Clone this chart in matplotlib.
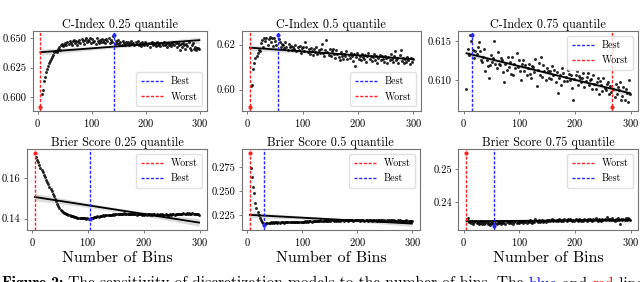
import numpy as np
import matplotlib
matplotlib.use('Agg')
import matplotlib.pyplot as plt

plt.rcParams['font.family'] = 'cmr10'
plt.rcParams['axes.formatter.use_mathtext'] = True
plt.rcParams['mathtext.fontset'] = 'cm'

bins = list(range(5, 301, 2))

cindex_025 = [
    0.5910, 0.6025, 0.6060, 0.6135, 0.6170, 0.6215, 0.6240, 0.6268, 0.6290, 0.6310,
    0.6322, 0.6345, 0.6355, 0.6380, 0.6392, 0.6388, 0.6410, 0.6425, 0.6402, 0.6440,
    0.6455, 0.6432, 0.6448, 0.6462, 0.6440, 0.6470, 0.6455, 0.6480, 0.6462, 0.6445,
    0.6475, 0.6490, 0.6458, 0.6480, 0.6445, 0.6470, 0.6488, 0.6460, 0.6492, 0.6475,
    0.6450, 0.6485, 0.6500, 0.6468, 0.6490, 0.6478, 0.6505, 0.6462, 0.6495, 0.6470,
    0.6482, 0.6455, 0.6500, 0.6478, 0.6462, 0.6490, 0.6472, 0.6495, 0.6468, 0.6485,
    0.6458, 0.6492, 0.6475, 0.6500, 0.6465, 0.6488, 0.6472, 0.6520, 0.6533, 0.6450,
    0.6478, 0.6462, 0.6485, 0.6455, 0.6470, 0.6448, 0.6475, 0.6460, 0.6440, 0.6468,
    0.6455, 0.6472, 0.6445, 0.6462, 0.6480, 0.6450, 0.6465, 0.6440, 0.6470, 0.6455,
    0.6475, 0.6448, 0.6462, 0.6435, 0.6468, 0.6452, 0.6440, 0.6470, 0.6458, 0.6445,
    0.6465, 0.6430, 0.6458, 0.6472, 0.6440, 0.6462, 0.6450, 0.6438, 0.6468, 0.6445,
    0.6455, 0.6432, 0.6462, 0.6448, 0.6470, 0.6440, 0.6455, 0.6428, 0.6460, 0.6445,
    0.6465, 0.6438, 0.6455, 0.6470, 0.6442, 0.6458, 0.6430, 0.6465, 0.6448, 0.6400,
    0.6452, 0.6425, 0.6462, 0.6440, 0.6408, 0.6455, 0.6435, 0.6468, 0.6420, 0.6398,
    0.6445, 0.6462, 0.6412, 0.6430, 0.6405, 0.6420, 0.6415, 0.6410]

cindex_050 = [
    0.5921, 0.6018, 0.6020, 0.6092, 0.6120, 0.6142, 0.6150, 0.6163, 0.6177, 0.6170,
    0.6206, 0.6222, 0.6190, 0.6230, 0.6215, 0.6232, 0.6200, 0.6225, 0.6235, 0.6210,
    0.6228, 0.6195, 0.6232, 0.6218, 0.6200, 0.6245, 0.6226, 0.6212, 0.6190, 0.6205,
    0.6198, 0.6185, 0.6210, 0.6192, 0.6178, 0.6202, 0.6188, 0.6195, 0.6175, 0.6190,
    0.6182, 0.6198, 0.6170, 0.6188, 0.6178, 0.6195, 0.6165, 0.6185, 0.6192, 0.6172,
    0.6212, 0.6190, 0.6168, 0.6180, 0.6160, 0.6185, 0.6172, 0.6155, 0.6180, 0.6168,
    0.6190, 0.6158, 0.6175, 0.6162, 0.6182, 0.6205, 0.6165, 0.6150, 0.6178, 0.6222,
    0.6168, 0.6155, 0.6180, 0.6148, 0.6172, 0.6183, 0.6160, 0.6140, 0.6175, 0.6158,
    0.6145, 0.6133, 0.6168, 0.6152, 0.6138, 0.6160, 0.6148, 0.6170, 0.6135, 0.6155,
    0.6142, 0.6162, 0.6150, 0.6128, 0.6158, 0.6105, 0.6145, 0.6165, 0.6138, 0.6152,
    0.6130, 0.6160, 0.6145, 0.6135, 0.6155, 0.6125, 0.6148, 0.6162, 0.6138, 0.6150,
    0.6128, 0.6145, 0.6158, 0.6132, 0.6150, 0.6120, 0.6142, 0.6155, 0.6130, 0.6148,
    0.6135, 0.6125, 0.6152, 0.6140, 0.6118, 0.6145, 0.6130, 0.6160, 0.6138, 0.6122,
    0.6148, 0.6172, 0.6132, 0.6140, 0.6120, 0.6155, 0.6176, 0.6128, 0.6142, 0.6118,
    0.6138, 0.6125, 0.6145, 0.6130, 0.6115, 0.6140, 0.6122, 0.6135]

cindex_075 = [
    0.6088, 0.6139, 0.6132, 0.6157, 0.6150, 0.6158, 0.6138, 0.6128, 0.6137, 0.6133,
    0.6142, 0.6148, 0.6137, 0.6125, 0.6123, 0.6130, 0.6140, 0.6111, 0.6125, 0.6118,
    0.6102, 0.6119, 0.6132, 0.6123, 0.6128, 0.6150, 0.6121, 0.6115, 0.6136, 0.6121,
    0.6119, 0.6128, 0.6125, 0.6110, 0.6098, 0.6121, 0.6113, 0.6130, 0.6117, 0.6123,
    0.6108, 0.6129, 0.6107, 0.6121, 0.6115, 0.6134, 0.6117, 0.6126, 0.6111, 0.6100,
    0.6120, 0.6125, 0.6112, 0.6119, 0.6107, 0.6115, 0.6121, 0.6108, 0.6102, 0.6118,
    0.6117, 0.6110, 0.6127, 0.6092, 0.6113, 0.6122, 0.6107, 0.6129, 0.6104, 0.6119,
    0.6112, 0.6100, 0.6115, 0.6111, 0.6102, 0.6111, 0.6101, 0.6118, 0.6107, 0.6113,
    0.6098, 0.6110, 0.6084, 0.6102, 0.6106, 0.6094, 0.6115, 0.6109, 0.6099, 0.6104,
    0.6099, 0.6113, 0.6108, 0.6100, 0.6107, 0.6090, 0.6075, 0.6101, 0.6106, 0.6111,
    0.6093, 0.6105, 0.6102, 0.6097, 0.6102, 0.6109, 0.6091, 0.6099, 0.6104, 0.6109,
    0.6093, 0.6100, 0.6101, 0.6088, 0.6107, 0.6095, 0.6089, 0.6097, 0.6102, 0.6082,
    0.6099, 0.6093, 0.6086, 0.6103, 0.6090, 0.6087, 0.6095, 0.6098, 0.6082, 0.6092,
    0.6085, 0.6065, 0.6089, 0.6078, 0.6095, 0.6082, 0.6091, 0.6087, 0.6097, 0.6075,
    0.6080, 0.6091, 0.6075, 0.6088, 0.6084, 0.6072, 0.6100, 0.6082]

brier_025 = [
    0.1723, 0.1703, 0.1688, 0.1675, 0.1662, 0.1650, 0.1638, 0.1626, 0.1614, 0.1602,
    0.1591, 0.1580, 0.1568, 0.1556, 0.1545, 0.1533, 0.1521, 0.1510, 0.1498, 0.1485,
    0.1472, 0.1460, 0.1450, 0.1442, 0.1436, 0.1431, 0.1428, 0.1425, 0.1422, 0.1420,
    0.1418, 0.1415, 0.1413, 0.1411, 0.1410, 0.1408, 0.1407, 0.1406, 0.1405, 0.1404,
    0.1403, 0.1403, 0.1402, 0.1402, 0.1401, 0.1401, 0.1400, 0.1401, 0.1400, 0.1399,
    0.1402, 0.1404, 0.1405, 0.1407, 0.1406, 0.1409, 0.1410, 0.1409, 0.1412, 0.1413,
    0.1412, 0.1415, 0.1414, 0.1416, 0.1417, 0.1415, 0.1418, 0.1417, 0.1419, 0.1418,
    0.1420, 0.1419, 0.1421, 0.1420, 0.1422, 0.1420, 0.1423, 0.1421, 0.1424, 0.1422,
    0.1425, 0.1423, 0.1424, 0.1421, 0.1423, 0.1420, 0.1422, 0.1421, 0.1423, 0.1420,
    0.1422, 0.1419, 0.1421, 0.1423, 0.1420, 0.1422, 0.1419, 0.1421, 0.1418, 0.1421,
    0.1419, 0.1422, 0.1420, 0.1418, 0.1421, 0.1419, 0.1422, 0.1420, 0.1418, 0.1421,
    0.1419, 0.1417, 0.1420, 0.1418, 0.1421, 0.1419, 0.1417, 0.1420, 0.1418, 0.1416,
    0.1419, 0.1421, 0.1418, 0.1420, 0.1422, 0.1419, 0.1421, 0.1423, 0.1420, 0.1422,
    0.1424, 0.1421, 0.1423, 0.1425, 0.1422, 0.1424, 0.1426, 0.1423, 0.1425, 0.1422,
    0.1424, 0.1426, 0.1423, 0.1421, 0.1424, 0.1422, 0.1420, 0.1419]

brier_050 = [
    0.2901, 0.2740, 0.2645, 0.2541, 0.2482, 0.2373, 0.2318, 0.2284, 0.2250, 0.2222,
    0.2198, 0.2180, 0.2162, 0.2147, 0.2160, 0.2168, 0.2164, 0.2170, 0.2166, 0.2172,
    0.2168, 0.2173, 0.2167, 0.2171, 0.2175, 0.2169, 0.2173, 0.2170, 0.2176, 0.2172,
    0.2174, 0.2170, 0.2177, 0.2173, 0.2171, 0.2176, 0.2174, 0.2178, 0.2172, 0.2177,
    0.2175, 0.2179, 0.2174, 0.2178, 0.2176, 0.2180, 0.2177, 0.2175, 0.2181, 0.2178,
    0.2182, 0.2179, 0.2184, 0.2180, 0.2186, 0.2182, 0.2180, 0.2187, 0.2183, 0.2188,
    0.2185, 0.2190, 0.2184, 0.2188, 0.2192, 0.2186, 0.2190, 0.2187, 0.2193, 0.2189,
    0.2191, 0.2187, 0.2194, 0.2189, 0.2192, 0.2195, 0.2188, 0.2193, 0.2190, 0.2196,
    0.2191, 0.2194, 0.2189, 0.2196, 0.2192, 0.2190, 0.2197, 0.2193, 0.2195, 0.2191,
    0.2196, 0.2192, 0.2198, 0.2194, 0.2191, 0.2197, 0.2193, 0.2196, 0.2192, 0.2195,
    0.2190, 0.2196, 0.2193, 0.2197, 0.2191, 0.2195, 0.2193, 0.2189, 0.2196, 0.2192,
    0.2195, 0.2190, 0.2194, 0.2197, 0.2192, 0.2189, 0.2195, 0.2193, 0.2190, 0.2196,
    0.2192, 0.2188, 0.2194, 0.2191, 0.2196, 0.2190, 0.2193, 0.2187, 0.2192, 0.2195,
    0.2189, 0.2193, 0.2190, 0.2186, 0.2192, 0.2189, 0.2194, 0.2188, 0.2191, 0.2185,
    0.2190, 0.2187, 0.2192, 0.2186, 0.2189, 0.2184, 0.2190, 0.2186]

brier_075 = [
    0.2550, 0.2349, 0.2338, 0.2342, 0.2335, 0.2340, 0.2333, 0.2337, 0.2341, 0.2334,
    0.2338, 0.2332, 0.2336, 0.2340, 0.2333, 0.2337, 0.2331, 0.2335, 0.2339, 0.2332,
    0.2336, 0.2330, 0.2334, 0.2338, 0.2331, 0.2325, 0.2336, 0.2333, 0.2339, 0.2334,
    0.2337, 0.2332, 0.2338, 0.2335, 0.2340, 0.2333, 0.2337, 0.2341, 0.2334, 0.2338,
    0.2336, 0.2340, 0.2333, 0.2338, 0.2342, 0.2335, 0.2339, 0.2336, 0.2341, 0.2337,
    0.2340, 0.2336, 0.2342, 0.2338, 0.2335, 0.2341, 0.2337, 0.2344, 0.2339, 0.2336,
    0.2342, 0.2338, 0.2346, 0.2340, 0.2337, 0.2343, 0.2339, 0.2341, 0.2345, 0.2338,
    0.2342, 0.2339, 0.2344, 0.2341, 0.2345, 0.2340, 0.2343, 0.2346, 0.2341, 0.2344,
    0.2342, 0.2345, 0.2341, 0.2347, 0.2343, 0.2340, 0.2345, 0.2342, 0.2346, 0.2343,
    0.2341, 0.2346, 0.2343, 0.2348, 0.2344, 0.2341, 0.2345, 0.2342, 0.2347, 0.2344,
    0.2342, 0.2346, 0.2343, 0.2340, 0.2345, 0.2342, 0.2347, 0.2343, 0.2341, 0.2346,
    0.2343, 0.2348, 0.2344, 0.2341, 0.2346, 0.2343, 0.2349, 0.2344, 0.2341, 0.2347,
    0.2344, 0.2342, 0.2347, 0.2343, 0.2348, 0.2345, 0.2352, 0.2346, 0.2343, 0.2348,
    0.2344, 0.2349, 0.2345, 0.2342, 0.2347, 0.2344, 0.2350, 0.2345, 0.2331, 0.2346,
    0.2343, 0.2348, 0.2344, 0.2349, 0.2345, 0.2350, 0.2346, 0.2343]

titles = ["C-Index 0.25 quantile", "C-Index 0.5 quantile", "C-Index 0.75 quantile",
          "Brier Score 0.25 quantile", "Brier Score 0.5 quantile", "Brier Score 0.75 quantile"]
series = [cindex_025, cindex_050, cindex_075, brier_025, brier_050, brier_075]
higher_better = [True, True, True, False, False, False]
legend_locs = ["lower right", "lower right", "upper right", "upper right", "upper right", "upper right"]
ytick_sets = [[0.600, 0.625, 0.650], [0.60, 0.62], [0.610, 0.615],
              [0.14, 0.16], [0.225, 0.250, 0.275], [0.24, 0.25]]
ytick_fmt = ["%.3f", "%.2f", "%.3f", "%.2f", "%.3f", "%.2f"]
xticks = [0, 100, 200, 300]
xlabel = "Number of Bins"
caption_bold = "Figure 2:"
caption_parts = [(" The sensitivity of discretization models to the number of bins. The ", 'black'),
                 ("blue", 'blue'), (" and ", 'black'), ("red", 'red'), (" lines", 'black')]

W, H = 640, 282
fig = plt.figure(figsize=(W / 100, H / 100), dpi=100)

# axes rectangles in pixels: (left, top, right, bottom)
rects = [(32.5, 31, 207.3, 111), (241.7, 31, 421, 111), (458.3, 31, 638.3, 111),
         (26.7, 149, 207.3, 230), (241.7, 149, 420, 230), (458.3, 149, 638.3, 230)]

BLUE = '#2626ff'
RED = '#ff2020'


def fit_band(x, y):
    x = np.asarray(x, float)
    y = np.asarray(y, float)
    b1, b0 = np.polyfit(x, y, 1)
    xs = np.linspace(x.min(), x.max(), 100)
    yhat = b0 + b1 * xs
    resid = y - (b0 + b1 * x)
    n = len(x)
    s = np.sqrt(np.sum(resid ** 2) / (n - 2))
    sxx = np.sum((x - x.mean()) ** 2)
    se = s * np.sqrt(1.0 / n + (xs - x.mean()) ** 2 / sxx)
    return xs, yhat, 1.976 * se


for k in range(6):
    l, t, r, b = rects[k]
    ax = fig.add_axes([l / W, 1 - b / H, (r - l) / W, (b - t) / H])
    x = np.array(bins, float)
    y = np.array(series[k], float)
    ax.scatter(x, y, s=4.5, color='black', alpha=0.85, linewidths=0, zorder=2)
    xs, yhat, ci = fit_band(x, y)
    ax.fill_between(xs, yhat - ci, yhat + ci, color='0.55', alpha=0.3, linewidth=0, zorder=1)
    ax.plot(xs, yhat, color='black', lw=1.3, zorder=3)

    if higher_better[k]:
        ib, iw = int(np.argmax(y)), int(np.argmin(y))
    else:
        ib, iw = int(np.argmin(y)), int(np.argmax(y))
    lb = ax.axvline(x[ib], color=BLUE, ls='--', dashes=(2.2, 1.2), lw=1.0, label='Best', zorder=4)
    lw_ = ax.axvline(x[iw], color=RED, ls='--', dashes=(2.2, 1.2), lw=1.0, label='Worst', zorder=4)
    ax.scatter([x[ib]], [y[ib]], s=9, color=BLUE, linewidths=0, zorder=5)
    ax.scatter([x[iw]], [y[iw]], s=9, color=RED, linewidths=0, zorder=5)

    handles = [lb, lw_] if higher_better[k] else [lw_, lb]
    ax.legend(handles=handles, loc=legend_locs[k], fontsize=7.2, framealpha=0.8,
              edgecolor='0.85', handlelength=2.2, borderpad=0.45, labelspacing=0.55)

    ax.set_title(titles[k], fontsize=8.8, pad=2.5)
    ax.set_xticks(xticks)
    ax.set_yticks(ytick_sets[k])
    ax.set_yticklabels([ytick_fmt[k] % v for v in ytick_sets[k]])
    ax.tick_params(labelsize=7.6, length=2.5, width=0.6, color='0.4', pad=2)
    for sp in ax.spines.values():
        sp.set_color('0.45')
        sp.set_linewidth(0.8)
    if k >= 3:
        ax.set_xlabel(xlabel, fontsize=11.5, labelpad=2)

# caption (partially cut at the bottom/right of the image, as in the reference)
cap_ax = fig.add_axes([0, 0, 1, 1])
cap_ax.set_axis_off()
cap_fs = 11.2
t0 = cap_ax.text(0.003, 1 - 276.5 / H, caption_bold, fontsize=cap_fs, family='cmb10',
                 va='top', ha='left', transform=cap_ax.transAxes)
prev = t0
for txt, col in caption_parts:
    prev = cap_ax.annotate(txt, xy=(1, 0), xycoords=prev, va='bottom', ha='left',
                           fontsize=cap_fs, color=col, family='cmr10')

fig.savefig('out.png', dpi=100)
